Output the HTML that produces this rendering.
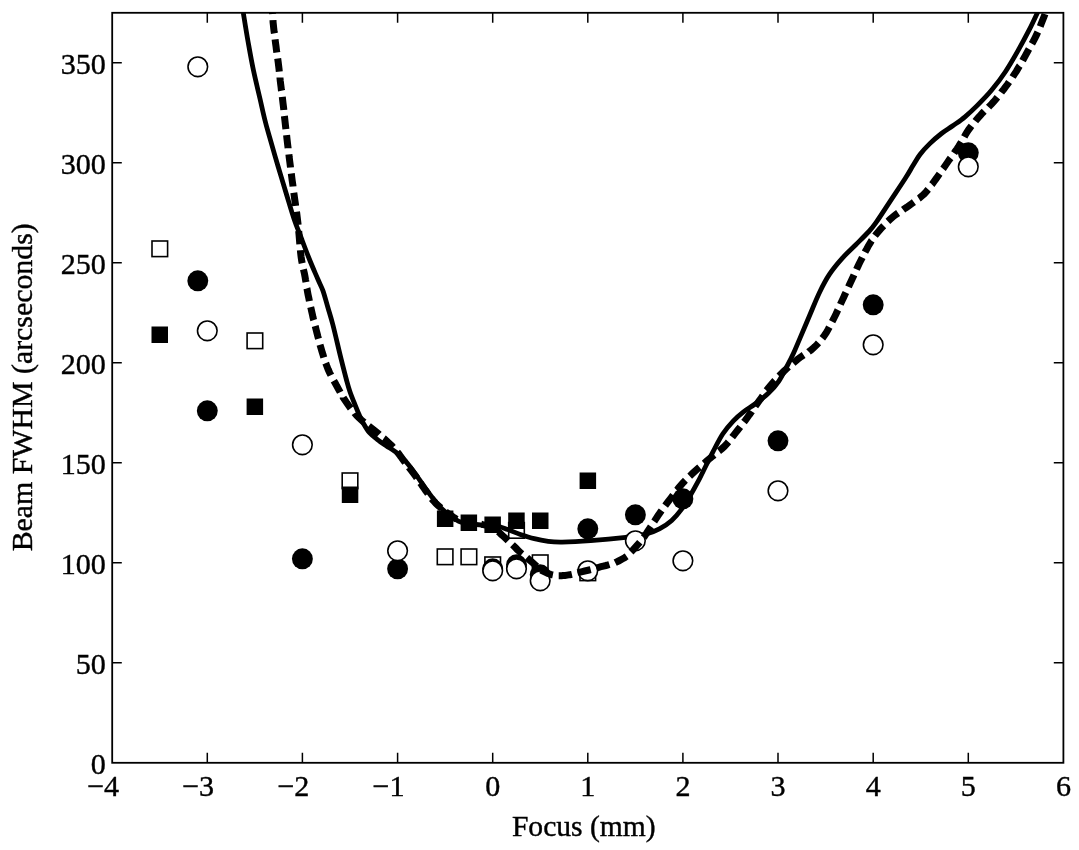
<!DOCTYPE html>
<html lang="en"><head><meta charset="utf-8"><title>Beam FWHM vs Focus</title>
<style>
html,body{margin:0;padding:0;background:#fff;}
body{width:1079px;height:850px;overflow:hidden;}
svg{display:block;}
text{font-family:"Liberation Serif","Times New Roman",serif;font-size:30.1px;fill:#000;stroke:#000;stroke-width:0.4px;}
.al{font-size:29.6px;}
</style></head><body>
<svg width="1079" height="850" viewBox="0 0 1079 850">
<rect x="0" y="0" width="1079" height="850" fill="#fff"/>
<defs><clipPath id="pc"><rect x="112.2" y="12.8" width="951.2" height="750.0"/></clipPath></defs>

<path d="M207.3 762.8V752.8M207.3 12.8V22.8M302.4 762.8V752.8M302.4 12.8V22.8M397.6 762.8V752.8M397.6 12.8V22.8M492.7 762.8V752.8M492.7 12.8V22.8M587.8 762.8V752.8M587.8 12.8V22.8M682.9 762.8V752.8M682.9 12.8V22.8M778.0 762.8V752.8M778.0 12.8V22.8M873.2 762.8V752.8M873.2 12.8V22.8M968.3 762.8V752.8M968.3 12.8V22.8M112.2 662.8H121.8M1063.4 662.8H1053.8M112.2 562.8H121.8M1063.4 562.8H1053.8M112.2 462.8H121.8M1063.4 462.8H1053.8M112.2 362.8H121.8M1063.4 362.8H1053.8M112.2 262.8H121.8M1063.4 262.8H1053.8M112.2 162.8H121.8M1063.4 162.8H1053.8M112.2 62.8H121.8M1063.4 62.8H1053.8" stroke="#000" stroke-width="1.5" fill="none"/>
<g clip-path="url(#pc)">
<rect x="152.0" y="241.0" width="15.6" height="15.6" fill="#fff" stroke="#000" stroke-width="1.6"/>
<rect x="247.1" y="333.0" width="15.6" height="15.6" fill="#fff" stroke="#000" stroke-width="1.6"/>
<rect x="342.2" y="473.0" width="15.6" height="15.6" fill="#fff" stroke="#000" stroke-width="1.6"/>
<rect x="437.3" y="549.0" width="15.6" height="15.6" fill="#fff" stroke="#000" stroke-width="1.6"/>
<rect x="461.1" y="549.0" width="15.6" height="15.6" fill="#fff" stroke="#000" stroke-width="1.6"/>
<rect x="484.9" y="557.0" width="15.6" height="15.6" fill="#fff" stroke="#000" stroke-width="1.6"/>
<rect x="508.7" y="522.6" width="15.6" height="15.6" fill="#fff" stroke="#000" stroke-width="1.6"/>
<rect x="532.4" y="555.0" width="15.6" height="15.6" fill="#fff" stroke="#000" stroke-width="1.6"/>
<rect x="580.0" y="565.0" width="15.6" height="15.6" fill="#fff" stroke="#000" stroke-width="1.6"/>
<rect x="151.5" y="326.5" width="16.5" height="16.5" fill="#000"/>
<rect x="246.6" y="398.5" width="16.5" height="16.5" fill="#000"/>
<rect x="341.8" y="486.5" width="16.5" height="16.5" fill="#000"/>
<rect x="436.9" y="510.5" width="16.5" height="16.5" fill="#000"/>
<rect x="460.6" y="514.5" width="16.5" height="16.5" fill="#000"/>
<rect x="484.4" y="516.5" width="16.5" height="16.5" fill="#000"/>
<rect x="508.2" y="512.5" width="16.5" height="16.5" fill="#000"/>
<rect x="532.0" y="512.5" width="16.5" height="16.5" fill="#000"/>
<rect x="579.6" y="472.5" width="16.5" height="16.5" fill="#000"/>
<circle cx="197.8" cy="280.8" r="10.45" fill="#000"/>
<circle cx="207.3" cy="410.8" r="10.45" fill="#000"/>
<circle cx="302.4" cy="558.8" r="10.45" fill="#000"/>
<circle cx="397.6" cy="568.8" r="10.45" fill="#000"/>
<circle cx="492.7" cy="568.8" r="10.45" fill="#000"/>
<circle cx="516.5" cy="564.8" r="10.45" fill="#000"/>
<circle cx="540.2" cy="574.8" r="10.45" fill="#000"/>
<circle cx="587.8" cy="528.8" r="10.45" fill="#000"/>
<circle cx="635.4" cy="514.8" r="10.45" fill="#000"/>
<circle cx="682.9" cy="498.8" r="10.45" fill="#000"/>
<circle cx="778.0" cy="440.8" r="10.45" fill="#000"/>
<circle cx="873.2" cy="304.8" r="10.45" fill="#000"/>
<circle cx="968.3" cy="152.8" r="10.45" fill="#000"/>
<path d="M243.3 12.8 C244.1 17.7 246.5 32.8 248.2 42.4 C249.9 52.0 251.5 61.2 253.5 70.6 C255.5 80.0 258.1 90.6 260.0 98.8 C261.9 107.0 263.2 113.4 264.9 120.0 C266.5 126.6 267.7 130.4 269.9 138.2 C272.1 145.9 275.3 157.1 278.1 166.5 C280.9 175.9 283.9 185.8 286.6 194.7 C289.3 203.6 291.9 212.7 294.4 220.0 C296.9 227.3 298.9 231.8 301.4 238.4 C303.9 245.0 306.8 252.7 309.5 259.5 C312.2 266.3 315.7 274.1 317.9 279.3 C320.1 284.5 321.2 285.9 322.9 290.6 C324.6 295.3 326.2 301.9 327.9 307.5 C329.5 313.1 330.6 316.1 332.8 324.5 C335.0 332.9 338.6 348.9 340.9 358.2 C343.2 367.4 345.0 374.5 346.5 380.0 C348.0 385.5 348.5 387.4 349.8 391.3 C351.1 395.2 352.9 399.6 354.5 403.5 C356.1 407.4 357.6 411.4 359.2 414.8 C360.8 418.2 362.2 421.2 363.9 424.2 C365.6 427.2 367.3 430.2 369.5 432.7 C371.7 435.2 374.3 437.1 377.1 439.3 C379.9 441.5 383.4 443.8 386.5 445.9 C389.6 448.0 392.8 449.7 395.9 452.2 C399.0 454.7 402.1 457.3 405.3 460.9 C408.5 464.5 411.9 469.1 415.2 473.6 C418.5 478.1 422.1 483.6 425.1 487.8 C428.2 492.1 430.6 495.5 433.5 499.1 C436.4 502.7 439.1 506.3 442.6 509.6 C446.1 512.9 451.5 516.7 454.7 518.8 C457.9 520.9 457.1 521.3 461.8 522.4 C466.5 523.5 477.4 524.7 483.0 525.2 C488.6 525.7 491.2 524.8 495.3 525.5 C499.4 526.2 503.7 528.1 507.9 529.6 C512.1 531.1 516.0 533.0 520.4 534.5 C524.8 536.0 529.7 537.6 534.3 538.7 C538.9 539.9 543.6 540.8 548.2 541.4 C552.8 542.0 555.0 542.2 562.1 542.1 C569.2 542.0 580.0 541.5 590.6 540.7 C601.2 539.9 616.6 538.4 625.8 537.3 C635.0 536.2 640.1 535.6 645.7 534.2 C651.3 532.8 655.1 531.2 659.4 528.9 C663.7 526.6 667.9 524.0 671.7 520.5 C675.5 517.0 679.4 512.3 682.4 508.2 C685.4 504.1 687.5 500.3 690.0 496.0 C692.5 491.7 695.6 486.2 697.7 482.2 C699.9 478.2 700.4 476.9 702.9 471.9 C705.4 466.9 709.5 458.4 712.8 452.1 C716.1 445.8 719.3 439.2 722.7 434.0 C726.1 428.8 729.9 424.5 733.4 420.8 C736.9 417.1 739.8 414.7 743.5 411.8 C747.2 408.9 751.5 406.7 755.7 403.5 C759.9 400.3 765.0 396.5 768.8 392.8 C772.6 389.1 775.7 385.7 778.7 381.3 C781.7 376.9 784.4 371.2 786.9 366.5 C789.4 361.8 791.4 357.9 793.5 353.3 C795.6 348.7 797.1 344.9 799.8 338.6 C802.5 332.3 806.3 323.2 809.6 315.5 C812.9 307.8 816.2 299.4 819.5 292.5 C822.8 285.6 825.5 280.2 829.4 274.4 C833.2 268.6 838.2 262.8 842.6 257.9 C847.0 252.9 851.4 249.1 855.8 244.7 C860.2 240.3 865.4 235.3 868.9 231.5 C872.4 227.7 873.0 226.8 876.5 221.9 C880.0 217.0 884.8 209.4 889.6 202.1 C894.4 194.8 901.6 184.1 905.5 178.0 C909.4 171.9 910.6 169.4 913.0 165.5 C915.4 161.6 917.2 158.2 920.0 154.5 C922.8 150.8 926.2 147.1 929.8 143.6 C933.4 140.1 937.7 136.5 941.5 133.5 C945.3 130.5 948.9 128.6 952.8 125.8 C956.7 123.0 961.0 120.2 965.0 116.8 C969.0 113.4 972.6 110.1 977.1 105.6 C981.6 101.1 987.0 95.7 991.7 90.0 C996.4 84.3 1001.0 78.4 1005.4 71.7 C1009.8 65.0 1014.4 57.0 1018.3 50.1 C1022.2 43.2 1025.7 36.6 1028.9 30.4 C1032.1 24.2 1035.5 16.8 1037.3 12.9 C1039.1 9.0 1039.5 8.0 1040.0 7.0" fill="none" stroke="#000" stroke-width="4.8" stroke-linejoin="round"/>
<circle cx="197.8" cy="66.8" r="9.8" fill="#fff" stroke="#000" stroke-width="1.6"/>
<circle cx="207.3" cy="330.8" r="9.8" fill="#fff" stroke="#000" stroke-width="1.6"/>
<circle cx="302.4" cy="444.8" r="9.8" fill="#fff" stroke="#000" stroke-width="1.6"/>
<circle cx="397.6" cy="550.8" r="9.8" fill="#fff" stroke="#000" stroke-width="1.6"/>
<circle cx="492.7" cy="570.8" r="9.8" fill="#fff" stroke="#000" stroke-width="1.6"/>
<circle cx="516.5" cy="568.8" r="9.8" fill="#fff" stroke="#000" stroke-width="1.6"/>
<circle cx="540.2" cy="580.8" r="9.8" fill="#fff" stroke="#000" stroke-width="1.6"/>
<circle cx="587.8" cy="570.8" r="9.8" fill="#fff" stroke="#000" stroke-width="1.6"/>
<circle cx="635.4" cy="540.8" r="9.8" fill="#fff" stroke="#000" stroke-width="1.6"/>
<circle cx="682.9" cy="560.8" r="9.8" fill="#fff" stroke="#000" stroke-width="1.6"/>
<circle cx="778.0" cy="490.8" r="9.8" fill="#fff" stroke="#000" stroke-width="1.6"/>
<circle cx="873.2" cy="344.8" r="9.8" fill="#fff" stroke="#000" stroke-width="1.6"/>
<circle cx="968.3" cy="166.8" r="9.8" fill="#fff" stroke="#000" stroke-width="1.6"/>
<path d="M271.8 6.0 L271.9 6.7 L272.0 7.6 L272.1 8.6 L272.2 9.9 L272.4 11.3 L272.5 12.8 L272.6 14.1 M273.0 20.1 L273.1 22.5 L273.4 25.1 L273.7 28.1 L274.1 31.6 L274.4 33.3 M275.1 39.3 L275.5 42.8 L276.0 46.3 L276.4 49.6 L276.8 52.4 M277.7 58.5 L277.8 59.2 L278.2 62.3 L278.6 65.5 L279.0 68.7 L279.3 71.6 M280.0 77.6 L280.0 78.1 L280.3 81.2 L280.7 84.4 L281.1 87.4 L281.4 90.3 L281.5 90.8 M282.3 96.8 L282.6 99.7 L283.1 103.8 L283.7 108.7 L283.8 110.0 M284.4 116.0 L284.9 120.4 L285.6 126.6 L285.9 129.2 M286.6 135.2 L286.9 138.2 L287.5 143.3 L288.1 148.1 L288.1 148.3 M288.9 154.4 L289.2 157.3 L289.8 161.9 L290.4 166.5 L290.5 167.5 M291.3 173.5 L291.6 175.9 L292.2 180.6 L292.9 185.3 L293.0 186.6 M293.8 192.7 L294.1 194.7 L294.7 199.3 L295.4 203.9 L295.6 205.8 M296.5 211.8 L296.7 213.1 L297.3 217.9 L297.9 222.9 L298.1 224.9 M298.7 231.0 L299.0 234.3 L299.5 240.3 L299.8 244.2 M300.4 250.2 L300.5 251.8 L301.1 256.7 L301.7 260.8 L302.2 263.3 M303.4 269.3 L303.7 270.5 L304.4 273.4 L305.0 276.5 L305.5 279.6 L306.0 282.2 M306.9 288.3 L307.0 288.6 L307.5 291.7 L308.1 294.8 L308.8 298.1 L309.4 301.2 M310.7 307.2 L311.0 308.3 L311.7 311.5 L312.4 314.6 L313.0 317.4 L313.6 319.8 L313.7 320.1 M315.2 326.0 L315.5 327.1 L316.2 330.0 L317.0 333.2 L317.9 336.7 L318.5 338.8 M320.0 344.7 L320.9 347.8 L321.9 351.2 L322.9 354.4 L323.8 357.4 M325.7 363.1 L325.9 363.6 L327.0 366.6 L328.2 369.5 L329.5 372.4 L330.8 375.1 L330.9 375.3 M333.8 380.7 L335.3 383.3 L336.8 386.1 L338.4 388.9 L340.0 391.8 L340.2 392.2 M343.3 397.5 L343.3 397.6 L345.1 400.4 L346.9 403.1 L348.8 405.8 L350.7 408.4 M354.6 413.1 L354.8 413.4 L357.0 415.8 L359.2 418.1 L361.5 420.2 L363.9 422.2 L364.0 422.3 M368.8 426.0 L371.3 427.9 L373.8 429.9 L376.3 432.0 L378.9 434.2 L379.1 434.4 M383.7 438.4 L384.0 438.6 L386.3 440.7 L388.4 442.6 L390.2 444.3 L391.8 445.8 L393.1 447.3 L393.3 447.4 M397.3 452.0 L398.3 453.2 L399.5 454.8 L400.6 456.4 L401.8 458.0 L403.0 459.8 L404.4 461.6 L405.2 462.6 M409.0 467.4 L409.2 467.7 L410.9 469.9 L412.6 472.1 L414.3 474.3 L416.0 476.6 L416.9 478.0 M420.4 483.0 L421.0 483.9 L422.6 486.3 L424.2 488.5 L425.7 490.6 L427.1 492.5 L428.0 493.8 M431.6 498.7 L432.6 499.8 L434.1 501.5 L435.7 503.2 L437.4 504.8 L439.1 506.3 L440.8 507.9 L441.0 508.0 M445.7 511.8 L446.7 512.5 L448.8 514.1 L451.0 515.5 L452.9 516.9 L454.7 518.0 L456.0 518.9 L456.6 519.3 M462.1 521.7 L464.7 522.1 L468.3 522.7 L472.3 523.2 L475.2 523.6 M481.3 524.3 L483.0 524.6 L485.2 524.9 L486.8 525.0 L488.1 525.1 L489.3 525.3 L490.5 525.8 L492.0 526.5 L493.7 527.7 L493.8 527.7 M498.4 531.7 L499.4 532.6 L501.2 534.4 L503.0 536.0 L504.7 537.5 L506.3 539.0 L507.8 540.4 L508.1 540.7 M512.5 544.8 L514.0 546.2 L515.6 547.8 L517.1 549.4 L518.7 550.9 L520.1 552.3 L521.4 553.5 L522.0 554.0 M526.9 557.7 L528.3 558.9 L529.9 560.3 L531.7 561.9 L533.4 563.4 L535.0 564.8 L536.4 566.0 L536.6 566.2 M541.0 570.0 L541.2 570.1 L542.1 570.7 L543.1 571.2 L544.1 571.7 L545.1 572.2 L546.0 572.6 L547.0 573.0 L547.9 573.4 L548.8 573.7 L549.7 574.0 L550.5 574.3 L551.5 574.6 L552.4 574.8 L552.9 574.9 M558.7 575.7 L559.7 575.7 L560.8 575.7 L561.8 575.7 L562.8 575.6 L563.9 575.5 L565.0 575.4 L566.1 575.3 L567.3 575.1 L568.5 574.9 L569.8 574.7 L571.0 574.5 L571.9 574.3 M577.8 572.8 L578.4 572.6 L580.2 572.1 L582.3 571.6 L584.7 571.0 L587.0 570.5 L589.1 570.0 L590.7 569.6 M596.5 567.9 L596.9 567.8 L598.8 567.3 L601.0 566.7 L603.4 566.1 L605.9 565.5 L608.1 564.9 L609.4 564.5 M615.2 562.7 L616.8 561.9 L618.6 561.0 L620.7 559.9 L622.7 558.8 L624.6 557.7 L626.1 556.7 L626.7 556.3 M631.0 552.0 L631.2 551.8 L632.8 550.1 L634.6 548.1 L636.6 545.9 L638.7 543.5 L639.8 542.2 M643.6 537.5 L644.3 536.6 L645.8 534.3 L647.3 532.0 L648.8 529.7 L650.3 527.4 L650.9 526.5 M654.2 521.4 L654.9 520.4 L656.4 518.1 L657.9 515.8 L659.5 513.5 L661.0 511.3 L661.6 510.5 M665.2 505.6 L665.5 505.2 L667.0 503.2 L668.5 501.2 L670.1 499.1 L671.8 496.9 L673.1 495.1 M676.8 490.2 L677.1 489.9 L678.9 487.5 L680.8 485.3 L682.7 483.2 L684.6 481.1 L685.4 480.3 M689.7 476.1 L690.8 475.1 L693.1 472.9 L695.6 470.6 L698.3 468.2 L699.5 467.2 M704.1 463.3 L706.8 461.0 L709.5 458.7 L712.1 456.6 L714.3 454.9 M719.0 451.1 L719.7 450.6 L722.1 448.5 L724.4 446.4 L726.5 444.2 L728.5 441.9 M732.2 437.2 L734.0 434.8 L735.9 432.4 L737.8 430.0 L739.7 427.6 L740.3 426.8 M744.0 422.0 L745.5 420.1 L747.4 417.5 L749.3 414.8 L751.3 412.1 L751.8 411.3 M755.3 406.3 L757.1 403.8 L759.0 401.1 L760.9 398.4 L762.8 395.8 L762.9 395.6 M766.4 390.6 L766.5 390.5 L768.5 387.9 L770.5 385.4 L772.6 383.0 L774.7 380.6 L774.8 380.5 M779.0 376.0 L779.0 376.0 L781.3 373.7 L783.7 371.4 L786.3 369.0 L788.5 367.0 M793.2 363.1 L794.7 361.8 L797.4 359.5 L800.0 357.5 L802.4 355.8 L803.6 355.0 M808.7 351.7 L808.8 351.6 L810.9 350.2 L812.9 348.5 L814.9 346.6 L816.9 344.6 L818.5 342.9 M822.3 338.3 L822.7 337.8 L824.5 335.3 L826.3 332.6 L828.0 329.7 L829.3 327.1 M832.1 321.7 L832.8 320.4 L834.4 317.2 L836.0 314.0 L837.5 310.7 L837.9 309.9 M840.4 304.4 L840.6 303.9 L842.1 300.6 L843.6 297.4 L845.0 294.3 L845.9 292.4 M848.5 286.9 L849.2 285.3 L850.6 282.3 L852.0 279.3 L853.4 276.3 L854.0 274.9 M856.5 269.4 L857.5 267.2 L858.9 264.2 L860.4 261.2 L862.0 258.1 L862.3 257.5 M865.0 252.1 L865.2 251.7 L866.9 248.7 L868.5 245.7 L870.1 243.1 L871.5 240.8 L871.6 240.7 M875.0 235.7 L875.3 235.3 L876.8 233.5 L878.5 231.5 L880.5 229.2 L882.8 226.7 L883.7 225.8 M887.9 221.4 L890.3 219.2 L892.9 216.9 L895.5 214.8 L898.1 213.0 M903.1 209.7 L903.9 209.1 L906.7 207.3 L909.4 205.4 L912.0 203.5 L913.9 202.1 M918.8 198.5 L919.6 198.0 L921.9 196.0 L924.2 193.9 L926.3 191.6 L928.2 189.4 M931.9 184.5 L932.1 184.3 L933.9 181.7 L935.8 179.1 L937.7 176.4 L939.6 173.8 M943.0 168.8 L943.5 168.2 L945.4 165.4 L947.3 162.6 L949.2 159.8 L950.6 158.0 M954.1 153.1 L955.1 151.6 L957.0 148.9 L958.8 146.1 L960.5 143.3 L961.3 142.0 M964.3 136.8 L965.3 134.9 L967.0 132.2 L968.7 129.6 L970.5 127.1 L971.5 125.8 M975.4 121.1 L976.3 119.9 L978.3 117.6 L980.4 115.3 L982.5 113.0 L984.2 111.3 M988.6 107.1 L989.3 106.3 L991.5 104.1 L993.7 101.7 L995.8 99.3 L997.4 97.3 M1001.2 92.6 L1001.9 91.6 L1003.9 89.1 L1005.8 86.5 L1007.7 84.0 L1009.1 82.0 M1012.6 77.0 L1012.9 76.5 L1014.6 73.9 L1016.3 71.3 L1017.9 68.6 L1019.5 66.0 L1019.6 65.9 M1022.6 60.6 L1022.7 60.4 L1024.3 57.6 L1025.9 54.6 L1027.6 51.5 L1029.0 49.1 M1031.9 43.8 L1033.1 41.6 L1034.8 38.3 L1036.5 34.9 L1037.8 32.0 M1040.2 26.4 L1041.2 23.8 L1042.6 20.2 L1043.9 17.0 L1044.9 14.4 L1045.0 14.1 M1047.3 8.5 L1047.5 8.0" fill="none" stroke="#000" stroke-width="7"/>
</g>
<rect x="112.2" y="12.8" width="951.2" height="750.0" fill="none" stroke="#000" stroke-width="1.8"/>
<text x="104.2" y="795.8" text-anchor="end">−</text><text x="111.5" y="795.8" text-anchor="middle">4</text>
<text x="199.3" y="795.8" text-anchor="end">−</text><text x="206.6" y="795.8" text-anchor="middle">3</text>
<text x="294.4" y="795.8" text-anchor="end">−</text><text x="301.7" y="795.8" text-anchor="middle">2</text>
<text x="389.6" y="795.8" text-anchor="end">−</text><text x="396.9" y="795.8" text-anchor="middle">1</text>
<text x="492.7" y="795.8" text-anchor="middle">0</text>
<text x="587.8" y="795.8" text-anchor="middle">1</text>
<text x="682.9" y="795.8" text-anchor="middle">2</text>
<text x="778.0" y="795.8" text-anchor="middle">3</text>
<text x="873.2" y="795.8" text-anchor="middle">4</text>
<text x="968.3" y="795.8" text-anchor="middle">5</text>
<text x="1063.4" y="795.8" text-anchor="middle">6</text>
<text x="105.9" y="774.0" text-anchor="end">0</text>
<text x="105.9" y="674.0" text-anchor="end">50</text>
<text x="105.9" y="574.0" text-anchor="end">100</text>
<text x="105.9" y="474.0" text-anchor="end">150</text>
<text x="105.9" y="374.0" text-anchor="end">200</text>
<text x="105.9" y="274.0" text-anchor="end">250</text>
<text x="105.9" y="174.0" text-anchor="end">300</text>
<text x="105.9" y="74.0" text-anchor="end">350</text>
<text class="al" transform="translate(583.8 836.1) scale(1 1.03)" text-anchor="middle">Focus (mm)</text>
<text class="al" style="font-size:29.85px" transform="translate(31.8 387.3) rotate(-90) scale(1 1.02)" text-anchor="middle">Beam FWHM (arcseconds)</text>
</svg></body></html>
